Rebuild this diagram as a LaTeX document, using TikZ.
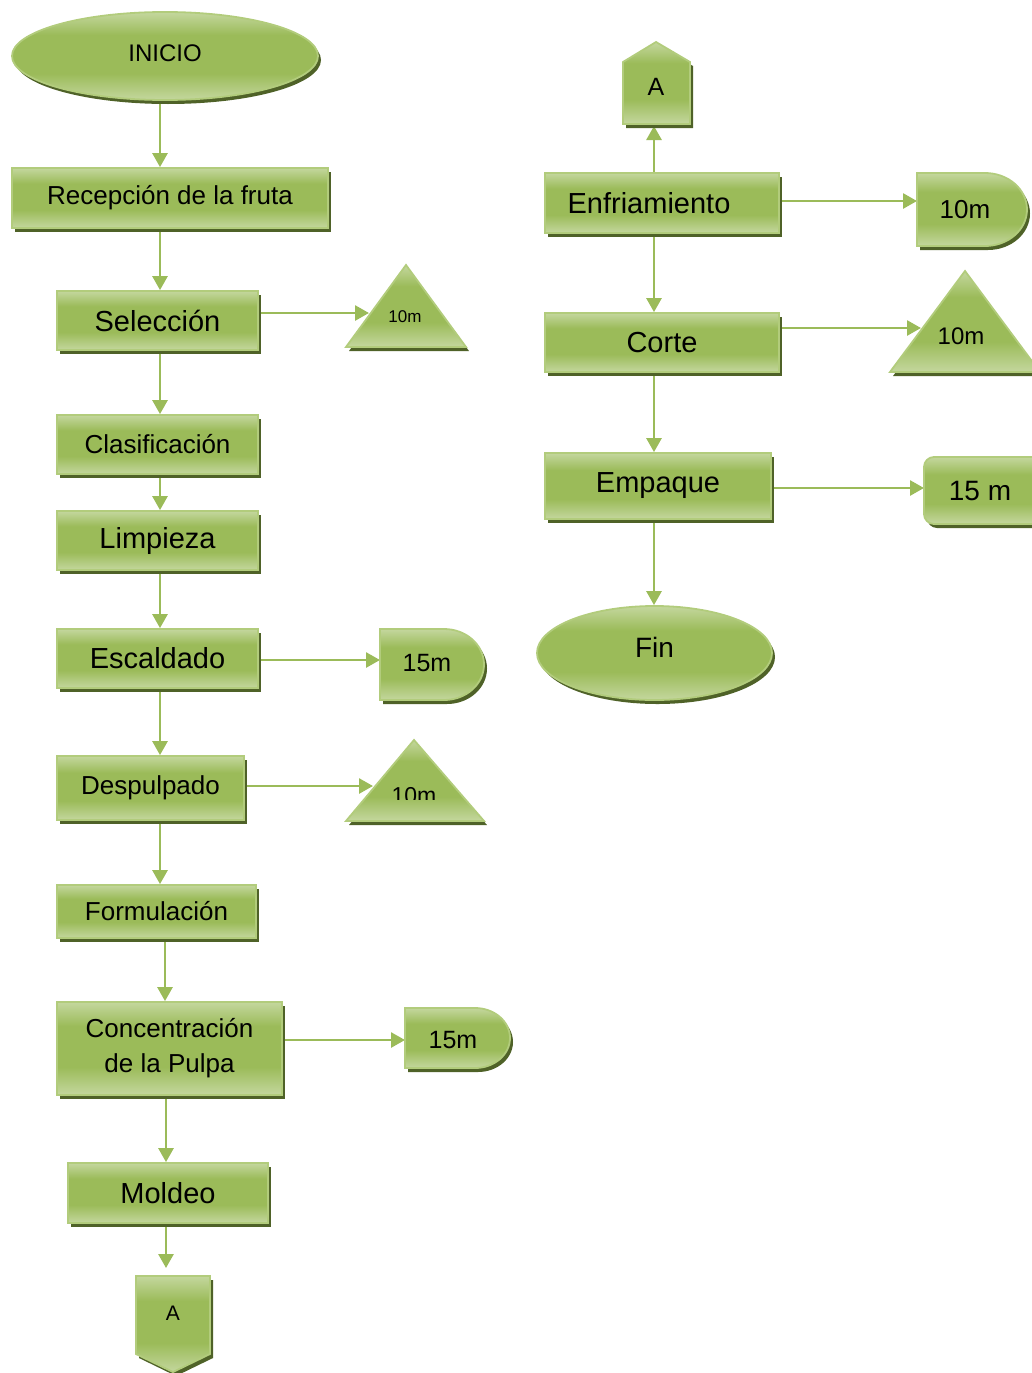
\documentclass[tikz,border=0pt]{standalone}
\usepackage{fontspec}
\setmainfont{Liberation Sans}
\usetikzlibrary{arrows.meta,shapes.geometric,shadows,calc}

\definecolor{gMd}{HTML}{9BBB59}
\definecolor{gLt}{HTML}{C4D79E}
\definecolor{gEdge}{HTML}{B2CC7C}
\definecolor{gShadow}{HTML}{4F6228}
\definecolor{gArrow}{HTML}{9BBB59}

% light band at top and bottom, full green in the middle
\pgfdeclareverticalshading{greenbar}{100bp}{color(0bp)=(gLt); color(25bp)=(gLt); color(40bp)=(gMd); color(62bp)=(gMd); color(75bp)=(gLt); color(100bp)=(gLt)}

\pgfdeclarelayer{bg}
\pgfsetlayers{bg,main}

\tikzset{
  pshape/.style={draw=gEdge, line width=1.8pt, shade, shading=greenbar,
    drop shadow={shadow xshift=3pt, shadow yshift=-4pt, fill=gShadow, opacity=1}},
  pbox/.style={pshape, rectangle, inner sep=0pt},
  poval/.style={pshape, ellipse, inner sep=0pt},
  parrow/.style={draw=gArrow, line width=2.7pt, -{Triangle[width=15pt,length=14pt]}},
  f17/.style={font=\fontsize{17}{20}\selectfont},
  f23/.style={font=\fontsize{23}{27}\selectfont},
  f24/.style={font=\fontsize{24}{28}\selectfont},
  f25/.style={font=\fontsize{25}{30}\selectfont},
  f26/.style={font=\fontsize{26}{35}\selectfont},
  f28/.style={font=\fontsize{28}{33}\selectfont},
  f29/.style={font=\fontsize{29}{34}\selectfont},
}

\begin{document}
\begin{tikzpicture}[x=1pt,y=-1pt]
\useasboundingbox (0,0) rectangle (1032,1373);
\clip (0,0) rectangle (1032,1373);

% ---------- left column ----------
\node[poval, minimum width=306pt, minimum height=88pt, f24] (inicio) at (165,56) {\raisebox{5pt}{INICIO}};
\node[pbox, minimum width=316pt, minimum height=60pt, f26] (rec) at (170,198) {Recepción de la fruta};
\node[pbox, minimum width=201pt, minimum height=59pt, f29] (sel) at (157.5,320.5) {Selección};
\node[pbox, minimum width=201pt, minimum height=59pt, f26] (cla) at (157.5,444.5) {Clasificación};
\node[pbox, minimum width=201pt, minimum height=59pt, f29] (lim) at (157.5,540.5) {Limpieza};
\node[pbox, minimum width=201pt, minimum height=59pt, f29] (esc) at (157.5,658.5) {Escaldado};
\node[pbox, minimum width=187pt, minimum height=64pt, f26] (des) at (150.5,788) {\raisebox{5pt}{Despulpado}};
\node[pbox, minimum width=199pt, minimum height=53pt, f26] (for) at (156.5,911.5) {Formulación};
\node[pbox, minimum width=225pt, minimum height=93pt, f26, align=center] (con) at (169.5,1048.5) {Concentración\\de la Pulpa};
\node[pbox, minimum width=200pt, minimum height=60pt, f29] (mol) at (168,1193) {Moldeo};

% waiting and storage symbols of the left column
\path[pshape] (406,265) -- (466,347) -- (346,347) -- cycle;
\node[f17] (t1) at (405,317) {10m};
\coordinate (t1in) at (369,313);

\path[pshape] (380,629) -- (444,629) arc[start angle=-90, end angle=90, x radius=40, y radius=35.5] -- (380,700) -- cycle;
\node[f25] (d1) at (427,663) {15m};
\coordinate (d1in) at (380,660);

\path[pshape] (414,740) -- (484,821) -- (346,821) -- cycle;
\begin{scope}
  \clip (370,770) rectangle (460,799.5);
  \node[f23, anchor=base] (t2) at (414,803.5) {10m};
\end{scope}
\coordinate (t2in) at (373,786);

\path[pshape] (405,1008) -- (475,1008) arc[start angle=-90, end angle=90, x radius=35, y radius=30] -- (405,1068) -- cycle;
\node[f25] (d2) at (453,1040) {15m};
\coordinate (d2in) at (405,1040);

% off-page connector at the foot of the left column
\path[pshape] (136,1276) -- (210,1276) -- (210,1354) -- (173,1372) -- (136,1354) -- cycle;
\node[font=\fontsize{21}{25}\selectfont] (abot) at (173,1313) {A};
\coordinate (abotin) at (166,1268);

% ---------- right column ----------
\path[pshape] (623,62) -- (656,42) -- (690,62) -- (690,124) -- (623,124) -- cycle;
\node[f25] (atop) at (656,87) {A};
\coordinate (atopin) at (654,126);

\node[pbox, minimum width=234pt, minimum height=60pt, f29] (enf) at (662,203) {\hspace*{-26pt}Enfriamiento};
\node[pbox, minimum width=234pt, minimum height=59pt, f29] (cor) at (662,342.5) {Corte};
\node[pbox, minimum width=226pt, minimum height=66pt, f29] (emp) at (658,486) {\raisebox{4pt}{Empaque}};
\node[poval, minimum width=235pt, minimum height=94pt, f28] (fin) at (654.5,653) {\raisebox{12pt}{Fin}};

\path[pshape] (917,173) -- (985,173) arc[start angle=-90, end angle=90, x radius=42, y radius=36.5] -- (917,246) -- cycle;
\node[f26] (d3) at (965,210) {10m};
\coordinate (d3in) at (917,201);

\path[pshape] (965,271) -- (1040,372) -- (890,372) -- cycle;
\node[f24] (t3) at (961,336) {10m};
\coordinate (t3in) at (921,328);

\node[pbox, rounded corners=10pt, minimum width=124pt, minimum height=67pt, f28] (r15) at (986,490.5) {\hspace*{-12pt}15 m};
\coordinate (r15in) at (924,488);

% ---------- connectors ----------
\coordinate (xA) at (160,0);
\coordinate (xB) at (165,0);
\coordinate (xC) at (166,0);
\coordinate (xR) at (654,0);
\begin{pgfonlayer}{bg}
\draw[parrow] (xA |- inicio.south) -- (xA |- rec.north);
\draw[parrow] (xA |- rec.south) -- (xA |- sel.north);
\draw[parrow] (sel.east |- t1in) -- (t1in);
\draw[parrow] (xA |- sel.south) -- (xA |- cla.north);
\draw[parrow] (xA |- cla.south) -- (xA |- lim.north);
\draw[parrow] (xA |- lim.south) -- (xA |- esc.north);
\draw[parrow] (esc.east |- d1in) -- (d1in);
\draw[parrow] (xA |- esc.south) -- (xA |- des.north);
\draw[parrow] (des.east |- t2in) -- (t2in);
\draw[parrow] (xA |- des.south) -- (xA |- for.north);
\draw[parrow] (xB |- for.south) -- (xB |- con.north);
\draw[parrow] (con.east |- d2in) -- (d2in);
\draw[parrow] (xC |- con.south) -- (xC |- mol.north);
\draw[parrow] (xC |- mol.south) -- (abotin);

\draw[parrow] (xR |- enf.north) -- (atopin);
\draw[parrow] (enf.east |- d3in) -- (d3in);
\draw[parrow] (xR |- enf.south) -- (xR |- cor.north);
\draw[parrow] (cor.east |- t3in) -- (t3in);
\draw[parrow] (xR |- cor.south) -- (xR |- emp.north);
\draw[parrow] (emp.east |- r15in) -- (r15in);
\draw[parrow] (xR |- emp.south) -- (xR |- fin.north);
\end{pgfonlayer}
\end{tikzpicture}
\end{document}
